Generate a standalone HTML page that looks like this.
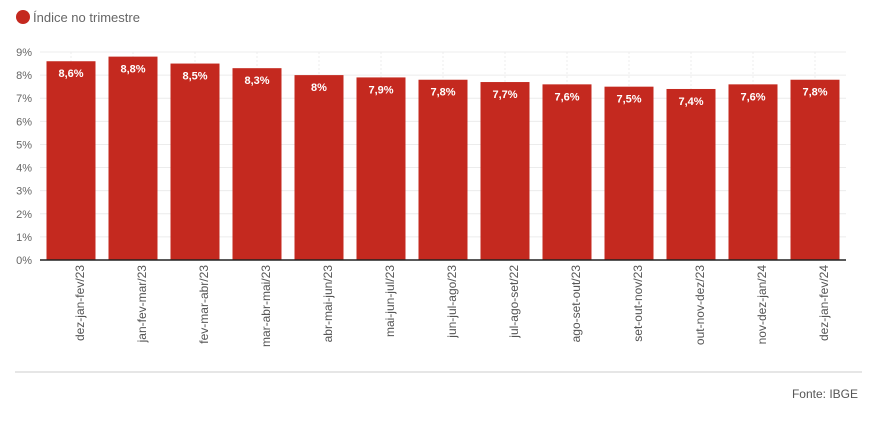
<!DOCTYPE html>
<html><head><meta charset="utf-8"><style>
body{margin:0;background:#fff;font-family:"Liberation Sans",sans-serif;}
svg text{font-family:"Liberation Sans",sans-serif;}
</style></head><body>
<svg width="873" height="422">
<g>
<circle cx="23" cy="17" r="7" fill="#c4291f"/>
<text x="33" y="22" font-size="13" fill="#666">Índice no trimestre</text>
</g>
<g id="grid"></g><g id="bars"></g><g id="labels"></g>
<line x1="15" y1="372" x2="862" y2="372" stroke="#ccc"/>
<text x="858" y="398" font-size="12" fill="#555" text-anchor="end">Fonte: IBGE</text>
</svg>
<script>
const categories=["dez-jan-fev/23","jan-fev-mar/23","fev-mar-abr/23","mar-abr-mai/23","abr-mai-jun/23","mai-jun-jul/23","jun-jul-ago/23","jul-ago-set/22","ago-set-out/23","set-out-nov/23","out-nov-dez/23","nov-dez-jan/24","dez-jan-fev/24"];
const values=[8.6,8.8,8.5,8.3,8.0,7.9,7.8,7.7,7.6,7.5,7.4,7.6,7.8];
const valueLabels=["8,6%","8,8%","8,5%","8,3%","8%","7,9%","7,8%","7,7%","7,6%","7,5%","7,4%","7,6%","7,8%"];
const yTicks=[0,1,2,3,4,5,6,7,8,9];
const NS="http://www.w3.org/2000/svg";
const L=40,R=846,T=52,B=260,yMax=9;
const band=(R-L)/categories.length;
const y=v=>B-(v/yMax)*(B-T);
const xc=i=>L+band*(i+0.5);
function mk(tag,attrs,parent,txt){const e=document.createElementNS(NS,tag);for(const k in attrs)e.setAttribute(k,attrs[k]);if(txt!==undefined)e.textContent=txt;parent.appendChild(e);return e;}
const g=document.getElementById('grid'),gb=document.getElementById('bars'),gl=document.getElementById('labels');
yTicks.forEach(t=>{
 const l=mk('line',{x1:L,x2:R,y1:y(t),y2:y(t),stroke:'#ececec'},g);
 
 
 const tx=mk('text',{x:32,y:y(t)+4,'font-size':11,fill:'#666','text-anchor':'end'},g,t+'%');
 
 
});
categories.forEach((c,i)=>{
 const v=mk('line',{x1:xc(i),x2:xc(i),y1:T,y2:B,stroke:'#ececec','stroke-dasharray':'2,2'},g);
 
 
 const bw=49;
 const r=mk('rect',{x:xc(i)-bw/2,y:y(values[i]),width:bw,height:B-y(values[i]),fill:'#c4291f'},gb);
 
 
 const vt=mk('text',{x:xc(i),y:y(values[i])+16,'font-size':11,'font-weight':'bold',fill:'#fff','text-anchor':'middle'},gl,valueLabels[i]);
 
 
 const ct=mk('text',{transform:`translate(${xc(i)+13},265) rotate(-90)`,'font-size':12,fill:'#555','text-anchor':'end'},gl,c);
 
 
});
const ax=mk('line',{x1:L,x2:R,y1:B,y2:B,stroke:'#222','stroke-width':1.5},gl);


</script>
</body></html>
